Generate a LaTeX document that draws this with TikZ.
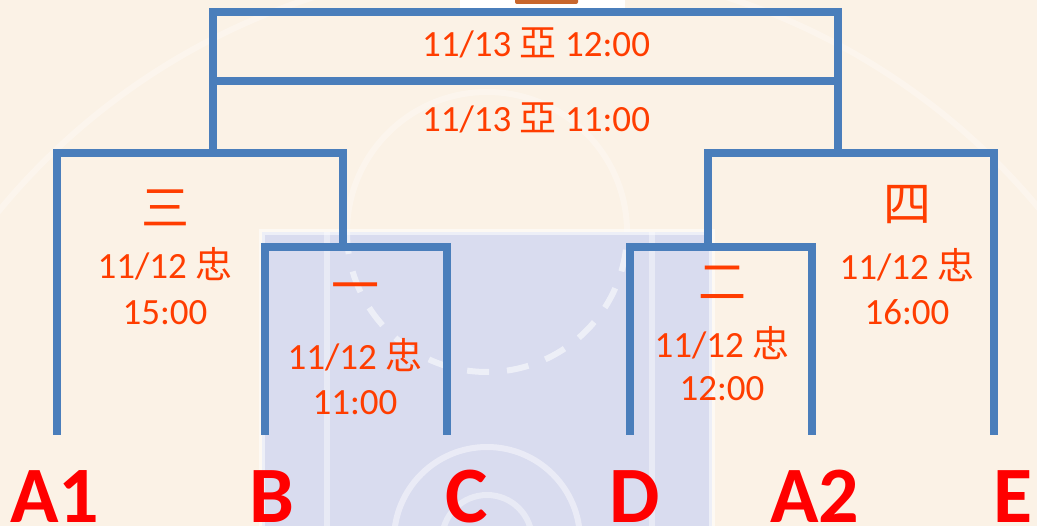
\documentclass[tikz,border=0pt]{standalone}
\usepackage{fontspec}
\setmainfont{Carlito}
\newfontfamily\cjk{Noto Sans CJK TC}
\definecolor{bgcream}{HTML}{FBF2E6}
\definecolor{paint}{HTML}{D9DCEF}
\definecolor{bline}{HTML}{4A7EBB}
\definecolor{txt}{HTML}{FF3D00}
\definecolor{lab}{HTML}{FF0000}
\definecolor{board}{HTML}{C8662C}
\tikzset{
  bracket/.style={draw=bline, line width=8pt, line cap=butt, line join=miter},
  info/.style={text=txt, inner sep=0pt, anchor=base, font=\fontsize{37}{44}\selectfont},
  numeral/.style={text=txt, inner sep=0pt, font=\fontsize{48}{52}\selectfont\cjk},
  team/.style={text=lab, inner sep=0pt, anchor=base, font=\fontsize{80}{88}\selectfont\bfseries},
  court/.style={draw=white, line width=6pt, opacity=0.55},
}
\begin{document}
\begin{tikzpicture}[x=1pt,y=-1pt]
\useasboundingbox (0,0) rectangle (1037,526);
% background
\fill[bgcream] (0,0) rectangle (1037,526);
\fill[paint] (262,232) rectangle (712,526);
\draw[court] (262,526) -- (262,232) -- (712,232) -- (712,526);
\draw[court, opacity=0.4] (327,232) -- (327,526);
\draw[court, opacity=0.4] (652,232) -- (652,526);
\draw[court, opacity=0.3] (347,232) arc[start angle=180, end angle=360, radius=140];
\draw[court, dashed, dash pattern=on 22pt off 18pt] (347,232) arc[start angle=180, end angle=0, radius=140];
\draw[court, opacity=0.45] (487,540) circle[radius=93];
\draw[court, opacity=0.4] (487,540) circle[radius=45];
\draw[court, opacity=0.3] (520,640) circle[radius=675];
\fill[white] (460,0) rectangle (625,8);
\fill[board, rounded corners=2pt] (515,-6) rectangle (578,4);

% leaves and joints
\coordinate (a1) at (57,435);
\coordinate (b) at (265,435);
\coordinate (c) at (447,435);
\coordinate (d) at (630,435);
\coordinate (a2) at (812,435);
\coordinate (e) at (994,435);
\coordinate (m1) at (356,247);
\coordinate (m2) at (721,247);
\coordinate (m3) at (200,153);
\coordinate (m4) at (851,153);
\coordinate (fin) at (525,12);

% brackets
\draw[bracket] (b) -- (b |- m1) -- (c |- m1) -- (c);
\draw[bracket] (d) -- (d |- m2) -- (a2 |- m2) -- (a2);
\draw[bracket] (a1) -- (a1 |- m3) coordinate (m3l) -- (343,153) coordinate (m3r) -- (m3r |- m1);
\draw[bracket] (e) -- (e |- m4) coordinate (m4r) -- (708,153) coordinate (m4l) -- (m4l |- m2);
\draw[bracket] (213,153) coordinate (f1) -- (f1 |- fin) -- (838,12) coordinate (f2) -- (f2 |- m4);
\draw[bracket] (213,81) coordinate (t1) -- (838,81) coordinate (t2);

% texts
\node[info] (final) at (536,57) {11/13 {\cjk 亞} 12:00};
\node[info] (third) at (536,132) {11/13 {\cjk 亞} 11:00};

\node[numeral] (n3) at (165,208) {三};
\node[info] (g3a) at (165,279) {11/12 {\cjk 忠}};
\node[info] (g3b) at (165,325) {15:00};

\node[numeral] (n1) at (355,293) {一};
\node[info] (g1a) at (355,370) {11/12 {\cjk 忠}};
\node[info] (g1b) at (355,415) {11:00};

\node[numeral] (n2) at (722,283) {二};
\node[info] (g2a) at (722,358) {11/12 {\cjk 忠}};
\node[info] (g2b) at (722,401) {12:00};

\node[numeral] (n4) at (907,205) {四};
\node[info] (g4a) at (907,280) {11/12 {\cjk 忠}};
\node[info] (g4b) at (907,325) {16:00};

% team labels
\node[team] (lA1) at (55,522) {A1};
\node[team] (lB) at (272,522) {B};
\node[team] (lC) at (467,522) {C};
\node[team] (lD) at (635,522) {D};
\node[team] (lA2) at (815,522) {A2};
\node[team] (lE) at (1013,522) {E};
\end{tikzpicture}
\end{document}
